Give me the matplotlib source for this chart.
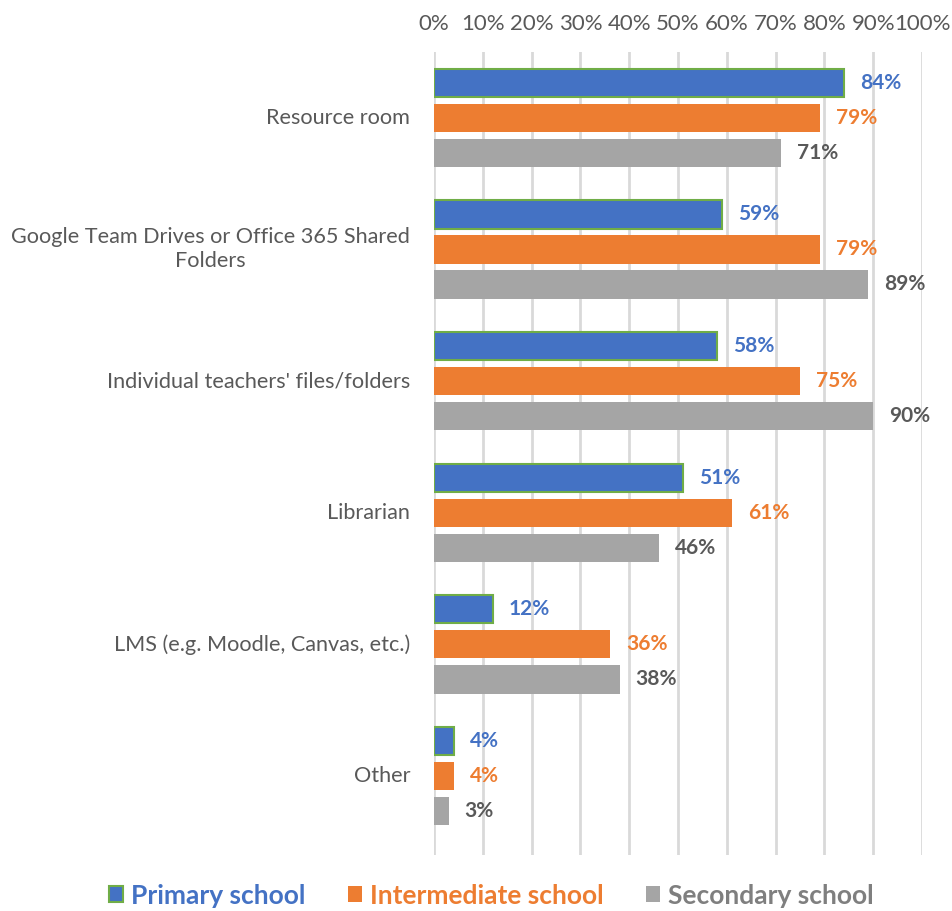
import numpy as np
import matplotlib.pyplot as plt
from matplotlib.patches import Patch

categories = ["Resource room", "Google Team Drives or Office 365 Shared\nFolders",
              "Individual teachers' files/folders", "Librarian",
              "LMS (e.g. Moodle, Canvas, etc.)", "Other"]
primary = [84, 59, 58, 51, 12, 4]
intermediate = [79, 79, 75, 61, 36, 4]
secondary = [71, 89, 90, 46, 38, 3]
series_names = ["Primary school", "Intermediate school", "Secondary school"]
tick_vals = list(range(0, 101, 10))

plt.rcParams['font.family'] = ['Lato', 'DejaVu Sans']

colors = ["#4472C4", "#ED7D31", "#A5A5A5"]
edges = ["#70AD47", "#ED7D31", "#A5A5A5"]
label_colors = ["#4472C4", "#ED7D31", "#595959"]
legend_text_colors = ["#4472C4", "#ED7D31", "#7F7F7F"]

fig = plt.figure(figsize=(9.52, 9.11), dpi=100)
ax = fig.add_axes([0.456, 0.0615, 0.5125, 0.8815])

y = np.arange(len(categories))
pitch = 0.266
h = 0.215
for k, vals in enumerate([primary, intermediate, secondary]):
    pos = y + (k - 1) * pitch
    ax.barh(pos, vals, height=h, color=colors[k], edgecolor=edges[k],
            linewidth=1.5 if k == 0 else 0, zorder=3)
    for p, v in zip(pos, vals):
        ax.annotate(f"{v}%", (v, p), xytext=(16, 0), textcoords="offset pixels",
                    va="center", ha="left", fontsize=15,
                    fontweight="bold", color=label_colors[k])

ax.set_xlim(0, 100)
ax.set_ylim(5.6, -0.5)
ax.set_yticks([])
for yy, cat in zip(y, categories):
    ax.annotate(cat, (0, yy), xycoords=("axes fraction", "data"), xytext=(-24, 0),
                textcoords="offset pixels", ha="right", va="center",
                multialignment="center", fontsize=15.6, color="#595959",
                linespacing=1.25)
ax.xaxis.tick_top()
ax.set_xticks(tick_vals)
ax.set_xticklabels([f"{v}%" for v in tick_vals], fontsize=16, color="#595959")
ax.tick_params(axis="x", length=0, pad=13)
ax.grid(axis="x", color="#D9D9D9", linewidth=2, zorder=0)
for s in ax.spines.values():
    s.set_visible(False)

handles = [Patch(facecolor=colors[i], edgecolor=edges[i], linewidth=1.5 if i == 0 else 0)
           for i in range(3)]
leg = fig.legend(handles, series_names, loc="center", bbox_to_anchor=(0.516, 0.017),
                 ncol=3, frameon=False, prop={"size": 19, "weight": "bold"},
                 handlelength=0.55, handleheight=0.55, handletextpad=0.3, columnspacing=1.6)
for t, c in zip(leg.get_texts(), legend_text_colors):
    t.set_color(c)

fig.savefig("out.png", dpi=100)
